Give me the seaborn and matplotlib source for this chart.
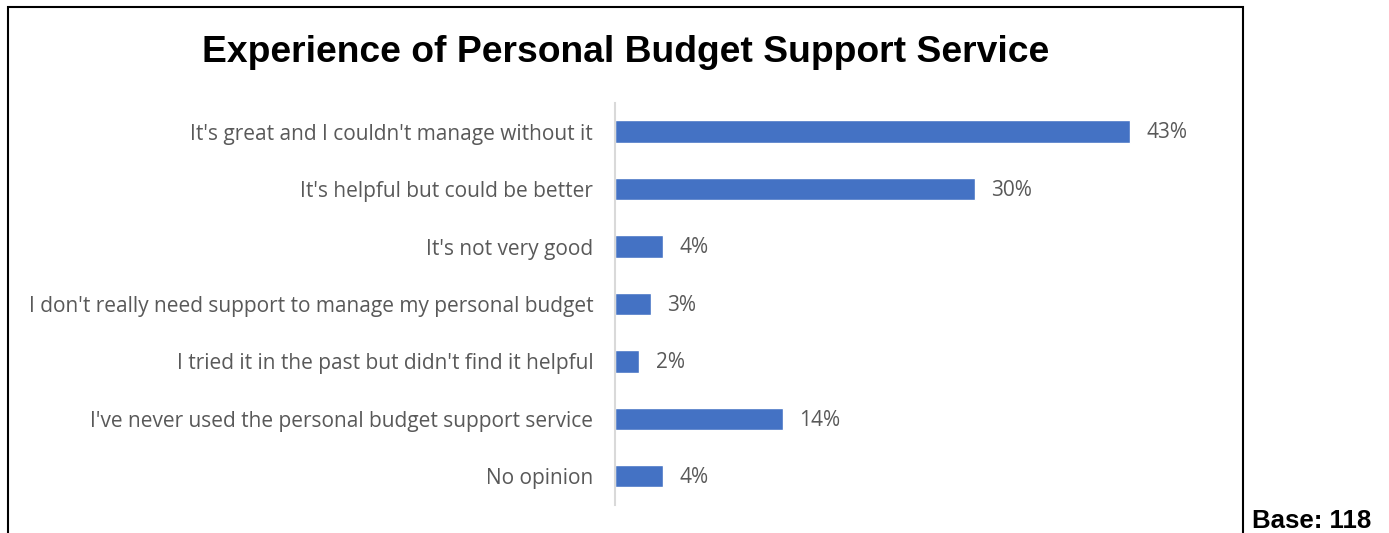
import matplotlib
matplotlib.use("Agg")
import matplotlib.pyplot as plt
import seaborn as sns
import pandas as pd
from matplotlib.patches import Rectangle

responses = [
    "It's great and I couldn't manage without it",
    "It's helpful but could be better",
    "It's not very good",
    "I don't really need support to manage my personal budget",
    "I tried it in the past but didn't find it helpful",
    "I've never used the personal budget support service",
    "No opinion",
]
percentages = [43, 30, 4, 3, 2, 14, 4]
title_text = "Experience of Personal Budget Support Service"
base_text = "Base: 118"

sns.set_theme(style="white")
plt.rcParams["font.family"] = ["Open Sans", "DejaVu Sans"]

df = pd.DataFrame({"response": responses, "pct": percentages})

fig = plt.figure(figsize=(13.89, 5.33), dpi=100)
ax = fig.add_axes([0.4431, 0.0525, 0.4309, 0.7543])

sns.barplot(data=df, x="pct", y="response", orient="h", color="#4472C4",
            width=0.39, saturation=1, ax=ax)

ax.set_xlim(0, 50)
ax.set_ylim(6.5, -0.5)
ax.set_xlabel("")
ax.set_ylabel("")
ax.set_xticks([])
for side in ["top", "right", "bottom"]:
    ax.spines[side].set_visible(False)
ax.spines["left"].set_color("#D9D9D9")
ax.spines["left"].set_linewidth(1.5)
ax.tick_params(axis="y", length=0, pad=16, labelsize=15, labelcolor="#595959")

for i, v in enumerate(percentages):
    ax.text(v + 1.35, i + 0.02, f"{v}%", va="center", ha="left",
            fontsize=15, color="#595959")

# chart frame, open at the bottom edge
fig.patches.append(Rectangle((8 / 1389, -0.1), (1243 - 8) / 1389, 1 - 7.5 / 533 + 0.1,
                             transform=fig.transFigure, fill=False,
                             edgecolor="black", linewidth=1.5))

fig.text(626 / 1389, 1 - 62 / 533, title_text, ha="center", va="baseline",
         fontsize=26.8, fontweight="bold", family=["Liberation Sans", "DejaVu Sans"],
         color="black")
fig.text(1252 / 1389, 1 - 528 / 533, base_text, ha="left", va="baseline",
         fontsize=18.5, fontweight="bold", family=["Liberation Sans", "DejaVu Sans"],
         color="black")

fig.savefig("out.png", dpi=100)
